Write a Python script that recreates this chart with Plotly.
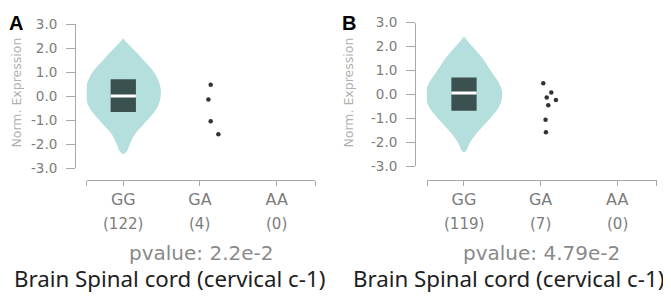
import plotly.graph_objects as go

# The page body keeps its default 8px margin, so the figure is drawn 8px in
# from the top-left corner of the 671x301 window.
VIEW_W, VIEW_H = 671, 301
OFF = 8
W, H = VIEW_W - OFF, VIEW_H - OFF

# ---------------- data ----------------
genotypes = ["GG", "GA", "AA"]
y_ticks = [-3, -2, -1, 0, 1, 2, 3]
y_ticktext = ["-3.0", "-2.0", "-1.0", "0.0", "1.0", "2.0", "3.0"]

# Panel A
a_counts = [122, 4, 0]
a_pvalue = "pvalue: 2.2e-2"
a_violin_levels = [2.40, 2.30, 2.05, 1.55, 0.90, 0.25, -0.40, -1.05, -1.57, -1.97, -2.33, -2.42]
a_violin_halfw = [0.0, 0.025, 0.10, 0.25, 0.42, 0.49, 0.455, 0.30, 0.155, 0.09, 0.04, 0.0]
a_box = dict(q1=-0.66, median=0.01, q3=0.70)
a_ga_values = [0.47, -0.14, -1.05, -1.59]
a_ga_jitter = [0.14, 0.11, 0.14, 0.24]

# Panel B
b_counts = [119, 7, 0]
b_pvalue = "pvalue: 4.79e-2"
b_violin_levels = [2.41, 2.30, 2.00, 1.60, 0.95, 0.40, 0.0, -0.50, -1.00, -1.60, -2.00, -2.35, -2.42]
b_violin_halfw = [0.0, 0.03, 0.11, 0.22, 0.36, 0.47, 0.50, 0.46, 0.34, 0.17, 0.08, 0.03, 0.0]
b_box = dict(q1=-0.68, median=0.06, q3=0.71)
b_ga_values = [0.47, 0.08, -0.13, -0.23, -0.45, -1.06, -1.58]
b_ga_jitter = [0.035, 0.14, 0.08, 0.20, 0.10, 0.065, 0.07]

tissue = "Brain Spinal cord (cervical c-1)"

# ---------------- style ----------------
VIOLIN = "#b4dfdc"
BOX = "#3a5150"
AXIS = "#a8a8a8"
TICKTXT = "#7c7c7c"
TITLEGRAY = "#b0b0b0"
FONT = "DejaVu Sans"
BOX_W = 0.33

positions = list(range(len(genotypes)))

fig = go.Figure()


def px_x(p):
    return (p - OFF) / W


def px_y(p):
    return 1 - (p - OFF) / H


panels = [
    dict(key="", counts=a_counts, pv=a_pvalue, lv=a_violin_levels, hw=a_violin_halfw,
         box=a_box, gav=a_ga_values, gaj=a_ga_jitter,
         xdom=(86.7, 315.0), xrange=(-0.477, 2.50), yline=75.0, ytop=16.5, ybot=169.0,
         letter="A", letter_x=15.5, ytitle_x=17, title_x=169),
    dict(key="2", counts=b_counts, pv=b_pvalue, lv=b_violin_levels, hw=b_violin_halfw,
         box=b_box, gav=b_ga_values, gaj=b_ga_jitter,
         xdom=(427.0, 656.7), xrange=(-0.483, 2.516), yline=415.0, ytop=15.0, ybot=167.0,
         letter="B", letter_x=349.5, ytitle_x=349, title_x=508),
]

annotations = []
for P in panels:
    xa = "x" + P["key"]
    ya = "y" + P["key"]
    c = positions[0]
    # violin outline (density profile)
    vx = [c + w for w in P["hw"]] + [c - w for w in reversed(P["hw"])]
    vy = list(P["lv"]) + list(reversed(P["lv"]))
    fig.add_trace(go.Scatter(x=vx, y=vy, mode="lines", fill="toself", fillcolor=VIOLIN,
                             line=dict(width=0, shape="spline", smoothing=1.0, color=VIOLIN),
                             hoverinfo="skip", xaxis=xa, yaxis=ya))
    # box (interquartile range)
    b = P["box"]
    hb = BOX_W / 2
    fig.add_trace(go.Scatter(x=[c - hb, c + hb, c + hb, c - hb, c - hb],
                             y=[b["q1"], b["q1"], b["q3"], b["q3"], b["q1"]],
                             mode="lines", fill="toself", fillcolor=BOX,
                             line=dict(width=0, color=BOX), xaxis=xa, yaxis=ya))
    # median
    fig.add_trace(go.Scatter(x=[c - hb, c + hb], y=[b["median"], b["median"]],
                             mode="lines", line=dict(color="white", width=3),
                             xaxis=xa, yaxis=ya))
    # GA points
    g = positions[1]
    fig.add_trace(go.Scatter(x=[g + j for j in P["gaj"]], y=P["gav"], mode="markers",
                             marker=dict(color="#333333", size=4.5),
                             xaxis=xa, yaxis=ya))

    xaxis = dict(domain=[px_x(P["xdom"][0]), px_x(P["xdom"][1])], range=list(P["xrange"]),
                 anchor="free", position=px_y(181.7), showline=True, linecolor=AXIS, linewidth=1,
                 ticks="outside", ticklen=5, tickcolor=AXIS, tickwidth=1,
                 tickvals=[P["xrange"][0]] + positions + [P["xrange"][1]],
                 ticktext=[""] + genotypes + [""],
                 tickfont=dict(family=FONT, size=16, color=TICKTXT),
                 showgrid=False, zeroline=False, fixedrange=True)
    yaxis = dict(domain=[px_y(P["ybot"]), px_y(P["ytop"])], range=[-3, 3],
                 anchor="free", position=px_x(P["yline"]), showline=True, linecolor=AXIS,
                 linewidth=1, ticks="outside", ticklen=9, tickcolor=AXIS, tickwidth=1,
                 tickvals=y_ticks, ticktext=y_ticktext, ticklabelstandoff=6,
                 tickfont=dict(family=FONT, size=13.5, color=TICKTXT),
                 showgrid=False, zeroline=False, fixedrange=True)
    if P["key"] == "":
        fig.update_layout(xaxis=xaxis, yaxis=yaxis)
    else:
        fig.update_layout(xaxis2=xaxis, yaxis2=yaxis)

    # counts under genotype labels
    for pos, n in zip(positions, P["counts"]):
        annotations.append(dict(x=pos, xref=xa, y=px_y(228), yref="paper", text=f"({n})",
                                showarrow=False, xanchor="center", yanchor="middle",
                                font=dict(family=FONT, size=15, color=TICKTXT)))
    xmid = (P["xdom"][0] + P["xdom"][1]) / 2
    annotations.append(dict(x=px_x(xmid), xref="paper", y=px_y(259), yref="paper", text=P["pv"],
                            showarrow=False, xanchor="center", yanchor="middle",
                            font=dict(family=FONT, size=20, color="#8a8a8a")))
    annotations.append(dict(x=px_x(P["title_x"]), xref="paper", y=px_y(286), yref="paper",
                            text=tissue, showarrow=False, xanchor="center", yanchor="middle",
                            font=dict(family="Noto Sans", size=22.3, color="#1e1e1e")))
    annotations.append(dict(x=px_x(P["letter_x"]), xref="paper", y=px_y(15), yref="paper",
                            text=f"<b>{P['letter']}</b>", showarrow=False,
                            xanchor="center", yanchor="middle",
                            font=dict(family="Liberation Sans", size=20, color="#000000")))
    annotations.append(dict(x=px_x(P["ytitle_x"]), xref="paper", y=px_y(89), yref="paper",
                            text="Norm. Expression", textangle=-90, showarrow=False,
                            xanchor="center", yanchor="middle",
                            font=dict(family=FONT, size=12.5, color=TITLEGRAY)))

fig.update_layout(width=W, height=H, margin=dict(l=0, r=0, t=0, b=0),
                  paper_bgcolor="white", plot_bgcolor="white", showlegend=False,
                  annotations=annotations)

fig.write_html("out.html")
